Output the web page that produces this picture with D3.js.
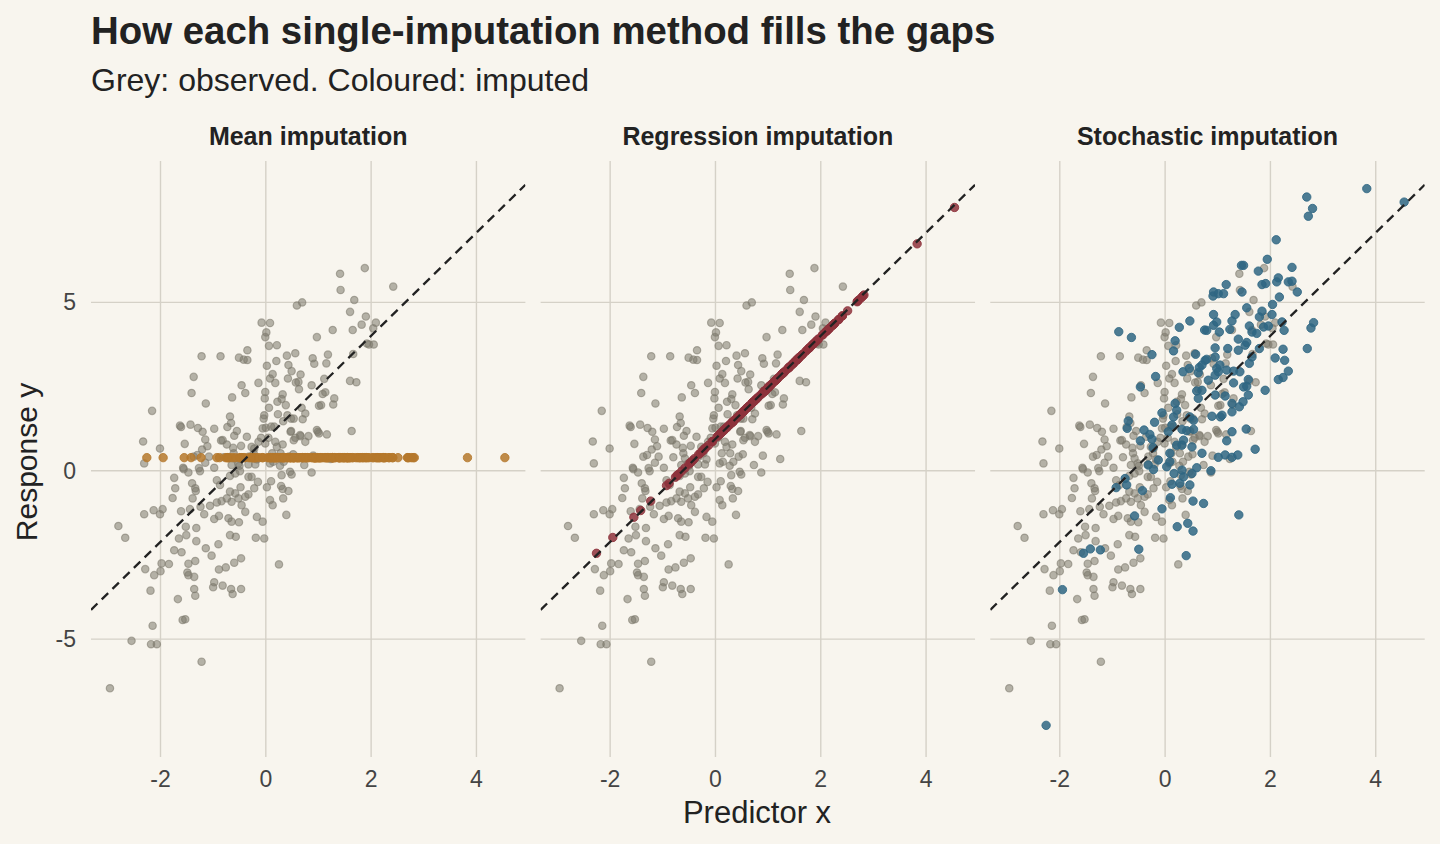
<!DOCTYPE html>
<html>
<head>
<meta charset="utf-8">
<script src="https://cdn.jsdelivr.net/npm/d3@7"></script>
<style>
  html, body { margin: 0; padding: 0; background: #f8f5ee; }
  svg { display: block; font-family: "Liberation Sans", Arial, Helvetica, sans-serif; }
</style>
</head>
<body>
<div id="chart"></div>
<script>
// observed points [x, y] (same in every panel)
const observed = [
  [-1.22,3.40],[-0.86,3.40],[-0.51,3.36],[-0.42,3.30],[-0.35,3.29],[-0.35,3.58],[-1.37,2.79],[-1.41,2.31],
  [-1.14,2.00],[-0.46,2.54],[-0.39,2.31],[-0.64,2.18],[-2.16,1.78],[-0.68,1.61],[-0.66,1.42],[-0.73,1.30],
  [-1.63,1.34],[-1.61,1.30],[-1.43,1.37],[-1.29,1.27],[-1.20,1.16],[-0.98,1.25],[-1.15,0.93],[-1.11,0.73],
  [-0.85,0.90],[-0.55,1.18],[-0.60,1.04],[-0.36,1.01],[-0.47,0.74],[-0.62,0.68],[-0.74,0.78],[-1.54,0.80],
  [-2.33,0.87],[-2.01,0.66],[-1.21,0.63],[-2.31,0.22],[-1.57,0.09],[-1.27,0.08],[-0.98,0.09],[-0.65,0.17],
  [-0.50,0.15],
  [1.41,5.85],[1.88,6.02],[2.42,5.47],[1.42,5.37],[0.59,4.91],[0.69,5.00],[1.68,5.07],[1.60,4.72],
  [1.90,4.58],[1.82,4.34],[2.09,4.40],[2.04,4.23],[1.65,4.18],[1.27,4.18],[0.97,3.97],[-0.08,4.40],
  [0.08,4.39],[0.01,4.11],[-0.01,3.97],[0.06,3.71],[0.21,3.73],[0.40,3.42],[0.56,3.49],[0.20,3.26],
  [0.02,3.12],[0.43,3.14],[0.49,2.96],[0.89,3.34],[0.92,3.18],[1.18,3.45],[1.15,3.19],[0.13,2.87],
  [0.08,2.74],[0.18,2.61],[-0.14,2.61],[0.42,2.74],[0.66,2.86],[0.62,2.64],[0.57,2.62],[0.63,2.42],
  [0.87,2.54],[1.11,2.73],[1.13,2.33],[1.08,2.28],[1.30,2.15],[1.28,1.97],[1.05,1.95],[1.01,1.93],
  [1.60,2.67],[1.72,2.63],[1.92,3.78],[1.96,3.75],[2.05,3.75],[1.66,3.47],[-0.01,2.34],[-0.02,2.15],
  [0.32,2.27],[0.30,2.13],[0.22,2.05],[0.38,1.95],[0.06,1.87],[-0.03,1.65],[-0.04,1.55],[0.23,1.68],
  [0.41,1.65],[0.48,1.55],[0.53,1.55],[0.68,1.87],[0.75,1.70],[0.70,1.53],[0.33,1.47],[0.16,1.31],
  [-0.06,1.26],[0.00,1.28],[0.10,1.31],[0.48,1.18],[0.56,0.98],[0.66,1.03],[0.81,1.03],[0.75,0.86],
  [0.97,1.21],[1.01,1.11],[1.16,1.08],[1.63,1.18],[-0.09,0.98],[0.05,0.98],[-0.14,0.86],[-0.01,0.81],
  [0.18,0.86],[0.32,0.78],[0.21,0.71],[-0.27,0.71],[-0.22,0.66],[-0.33,0.19],[-0.20,0.19],[0.08,0.22],
  [0.27,0.15],[0.73,0.17],
  [-1.56,0.05],[-1.47,-0.05],[-1.25,-0.01],[-1.74,-0.21],[-1.72,-0.52],[-1.77,-0.81],[-1.40,-0.37],[-1.34,-0.52],
  [-1.33,-0.60],[-1.39,-0.82],[-0.93,-0.28],[-0.87,-0.42],[-0.68,-0.15],[-0.58,-0.08],[-0.49,-0.01],[-0.48,-0.49],
  [-0.68,-0.62],[-0.58,-0.67],[-0.74,-0.82],[-0.65,-0.92],[-0.52,-0.82],[-0.39,-0.77],[-0.46,-1.02],[-0.39,-1.22],
  [-1.06,-1.04],[-0.93,-0.94],[-0.84,-0.90],[-1.17,-1.29],[-0.98,-1.43],[-0.89,-1.34],[-0.71,-1.41],[-0.65,-1.51],
  [-0.51,-1.53],[-1.24,-1.07],[-1.44,-1.14],[-1.61,-1.20],[-2.31,-1.29],[-2.13,-1.17],[-2.01,-1.29],[-1.96,-1.14],
  [-2.80,-1.64],[-2.67,-1.99],[-1.52,-1.66],[-1.32,-1.70],[-1.51,-1.91],[-1.65,-2.01],[-1.32,-2.09],[-0.68,-1.91],
  [-0.57,-1.96],[-0.90,-2.18],[-1.14,-2.30],[-1.03,-2.52],[-1.74,-2.36],[-1.60,-2.42],[-0.47,-2.60],[-0.60,-2.73],
  [-0.76,-2.87],[-0.89,-2.93],[-1.47,-2.76],[-1.34,-2.68],[-1.98,-2.75],[-1.84,-2.77],[-2.00,-2.98],[-2.12,-3.10],
  [-2.29,-2.92],[-1.49,-3.02],[-1.47,-3.10],[-1.36,-3.15],[-0.98,-3.31],[-1.00,-3.46],[-0.82,-3.41],[-0.66,-3.51],
  [-0.63,-3.66],[-0.47,-3.51],[-1.36,-3.51],[-1.34,-3.71],[-2.19,-3.56],[-1.67,-3.81],[-1.58,-4.43],[-1.53,-4.41],
  [-2.15,-4.60],[-2.55,-5.05],[-2.18,-5.15],[-2.07,-5.15],[-1.22,-5.67],[-2.96,-6.46],[-0.33,-0.18],
  [0.87,-0.05],[-0.27,-0.18],[-0.15,-0.33],[-0.22,-0.52],[-0.33,-0.70],[0.02,-0.49],[0.10,-0.31],[0.30,-0.13],
  [0.29,-0.45],[0.32,-0.54],[0.43,-0.60],[0.46,-0.03],[0.49,-0.11],[0.08,-0.87],[0.13,-1.02],[0.33,-0.82],
  [0.39,-1.31],[-0.17,-1.37],[-0.06,-1.51],[-0.19,-1.99],[-0.03,-2.01],[0.25,-2.78],
  [-1.37,0.42],[-1.30,0.47],[-1.08,0.42],[-1.15,0.24],[-0.80,0.40],[-0.61,0.52],[-0.58,0.37],[-0.52,0.22],
  [-0.32,0.42],[-0.23,0.52],[-0.17,0.34],[0.12,0.52],[0.28,0.52],[0.14,0.27],[0.34,0.27],[0.44,0.42],
  [0.52,0.49],[0.90,0.45],[1.23,0.35],[0.99,1.16],[0.65,1.06],[0.47,1.16],[0.53,0.91],[-0.82,0.91]
];

// imputed rows: [x, regression fill, stochastic fill]
const imputed = [
  [-2.26,-2.45,-7.56],[-1.95,-1.98,-3.53],[-1.55,-1.38,-2.45],[-1.42,-1.18,-2.32],[-1.23,-0.90,-2.35],
  [-0.93,-0.44,-0.50],[-0.88,-0.37,4.13],[-0.76,-0.19,-0.23],[-0.73,-0.14,-0.42],[-0.72,-0.13,1.26],
  [-0.70,-0.10,1.48],[-0.64,-0.01,3.96],[-0.58,0.08,-1.34],[-0.50,0.20,-2.33],[-0.47,0.25,2.49],
  [-0.47,0.25,0.89],[-0.43,0.31,-0.59],[-0.40,0.36,1.21],[-0.32,0.48,0.17],[-0.29,0.52,1.08],
  [-0.25,0.58,3.45],[-0.25,0.58,0.94],[-0.23,0.61,0.69],[-0.22,0.63,0.04],[-0.20,0.66,1.44],
  [-0.18,0.69,2.80],[-0.13,0.76,0.32],[-0.06,0.87,1.72],[-0.06,0.87,-1.13],[0.03,1.01,0.12],
  [0.06,1.05,1.16],[0.09,1.10,0.52],[0.09,1.10,0.27],[0.10,1.11,-0.80],[0.13,1.16,1.36],
  [0.13,1.16,-0.40],[0.16,1.20,3.56],[0.16,1.20,1.60],[0.17,1.22,-0.08],[0.19,1.25,3.86],
  [0.19,1.25,2.00],[0.22,1.29,1.80],[0.22,1.29,0.76],[0.23,1.31,-1.66],[0.27,1.37,4.26],
  [0.28,1.38,-0.37],[0.32,1.44,1.23],[0.32,1.44,0.76],[0.32,1.44,0.02],[0.34,1.47,2.94],
  [0.35,1.49,0.91],[0.35,1.49,-0.18],[0.40,1.56,-2.52],[0.41,1.58,1.19],[0.43,1.61,-1.56],
  [0.46,1.65,3.04],[0.47,1.67,4.45],[0.47,1.67,1.60],[0.47,1.67,-0.42],[0.51,1.73,0.71],
  [0.51,1.73,-0.08],[0.53,1.76,-0.90],[0.53,1.76,-1.79],[0.54,1.78,1.50],[0.54,1.78,1.23],
  [0.58,1.84,3.46],[0.60,1.87,2.37],[0.60,1.87,0.09],[0.63,1.91,2.91],[0.63,1.91,2.15],
  [0.65,1.94,3.07],[0.70,2.02,3.14],[0.70,2.02,2.39],[0.70,2.02,0.52],[0.73,2.06,-0.97],
  [0.75,2.09,4.18],[0.76,2.11,3.28],[0.79,2.15,4.17],[0.79,2.15,3.31],[0.82,2.20,2.69],
  [0.87,2.27,0.00],[0.89,2.30,1.62],[0.91,2.33,5.19],[0.92,2.35,5.31],[0.92,2.35,4.64],
  [0.92,2.35,4.32],[0.95,2.39,3.65],[0.95,2.39,3.38],[0.95,2.39,2.84],[0.95,2.39,2.25],
  [0.98,2.44,4.42],[0.98,2.44,3.04],[1.01,2.49,5.26],[1.01,2.49,0.40],[1.01,2.49,2.94],
  [1.03,2.52,4.12],[1.04,2.53,3.14],[1.05,2.55,1.60],[1.08,2.59,1.65],[1.11,2.64,5.26],
  [1.14,2.68,2.22],[1.14,2.68,0.47],[1.16,2.71,5.53],[1.17,2.73,2.99],[1.17,2.73,0.89],
  [1.19,2.76,3.63],[1.23,2.82,4.20],[1.27,2.88,4.45],[1.27,2.88,2.00],[1.27,2.88,1.75],
  [1.27,2.88,1.16],[1.27,2.88,0.40],[1.30,2.92,2.96],[1.30,2.92,2.61],[1.33,2.97,4.64],
  [1.38,3.04,0.47],[1.39,3.06,3.91],[1.39,3.06,3.58],[1.40,3.07,-1.31],[1.41,3.09,1.90],
  [1.42,3.10,2.94],[1.45,3.15,6.10],[1.46,3.16,5.31],[1.48,3.19,2.05],[1.49,3.21,6.10],
  [1.49,3.21,2.49],[1.52,3.26,3.73],[1.54,3.29,1.24],[1.55,3.30,4.84],[1.55,3.30,3.81],
  [1.55,3.30,2.51],[1.58,3.35,2.71],[1.58,3.35,2.25],[1.60,3.38,4.30],[1.60,3.38,3.19],
  [1.65,3.45,4.12],[1.65,3.45,3.38],[1.71,3.54,0.64],[1.74,3.59,4.08],[1.77,3.63,5.93],
  [1.79,3.66,4.57],[1.79,3.66,3.63],[1.84,3.74,5.53],[1.84,3.74,4.74],[1.87,3.78,4.27],
  [1.90,3.83,2.39],[1.91,3.84,5.56],[1.94,3.89,6.28],[1.96,3.92,4.30],[2.03,4.03,4.64],
  [2.04,4.04,4.94],[2.09,4.12,3.35],[2.11,4.15,6.86],[2.12,4.16,5.61],[2.15,4.21,5.73],
  [2.15,4.21,2.71],[2.17,4.24,5.16],[2.22,4.31,4.42],[2.24,4.34,3.61],[2.24,4.34,2.77],
  [2.26,4.37,4.17],[2.27,4.39,3.28],[2.34,4.49,5.61],[2.34,4.49,2.96],[2.41,4.60,6.04],
  [2.41,4.60,5.63],[2.51,4.75,5.31],[2.69,5.02,8.13],[2.70,5.04,3.63],[2.72,5.07,7.56],
  [2.77,5.14,4.24],[2.80,5.19,7.79],[2.82,5.22,4.40],[3.83,6.74,8.38],[4.54,7.82,7.98]
];

const meanFillY = 0.39;           // mean of observed y, used for every gap
const refLine = { intercept: 0.95, slope: 1.53 };  // dashed fit line

const panels = ['Mean imputation', 'Regression imputation', 'Stochastic imputation'];
const fillColors = ['#b5782c', '#8e323c', '#2f6682'];
const xTicks = [-2, 0, 2, 4];
const yTicks = [-5, 0, 5];

const W = 1440, H = 844;
const svg = d3.select('#chart').append('svg').attr('width', W).attr('height', H);
svg.append('rect').attr('width', W).attr('height', H).attr('fill', '#f8f5ee');

const panelW = 434.4, panelGap = 15.25, left0 = 91;
const plotTop = 161, plotBottom = 757;
const xDomain = [-3.32, 4.93];
const y = d3.scaleLinear().domain([-8.5, 9.2]).range([plotBottom, plotTop]);

svg.append('text').attr('x', 91).attr('y', 44)
  .attr('font-size', 38.4).attr('font-weight', 'bold').attr('fill', '#222')
  .text('How each single-imputation method fills the gaps');
svg.append('text').attr('x', 91).attr('y', 91)
  .attr('font-size', 32).attr('fill', '#222')
  .text('Grey: observed. Coloured: imputed');

panels.forEach((name, i) => {
  const x0 = left0 + i * (panelW + panelGap);
  const x = d3.scaleLinear().domain(xDomain).range([x0, x0 + panelW]);
  const g = svg.append('g');

  // grid
  g.selectAll('.gx').data(xTicks).join('line')
    .attr('x1', d => x(d)).attr('x2', d => x(d)).attr('y1', plotTop).attr('y2', plotBottom)
    .attr('stroke', '#d5d1c7').attr('stroke-width', 1.4);
  g.selectAll('.gy').data(yTicks).join('line')
    .attr('x1', x0).attr('x2', x0 + panelW).attr('y1', d => y(d)).attr('y2', d => y(d))
    .attr('stroke', '#d5d1c7').attr('stroke-width', 1.4);

  // x axis labels
  g.selectAll('.tx').data(xTicks).join('text')
    .attr('x', d => x(d)).attr('y', 787).attr('text-anchor', 'middle')
    .attr('font-size', 23).attr('fill', '#444')
    .text(d => d < 0 ? '-' + Math.abs(d) : d);

  // strip title
  g.append('text').attr('x', x0 + panelW / 2).attr('y', 145).attr('text-anchor', 'middle')
    .attr('font-size', 25).attr('font-weight', 'bold').attr('fill', '#222').text(name);

  // observed
  g.append('g').selectAll('circle').data(observed).join('circle')
    .attr('cx', d => x(d[0])).attr('cy', d => y(d[1])).attr('r', 3.7)
    .attr('fill', '#7b796b').attr('fill-opacity', 0.55)
    .attr('stroke', '#7b796b').attr('stroke-opacity', 0.55).attr('stroke-width', 1.2);

  // imputed
  const fy = d => i === 0 ? meanFillY : i === 1 ? d[1] : d[2];
  g.append('g').selectAll('circle').data(imputed).join('circle')
    .attr('cx', d => x(d[0])).attr('cy', d => y(fy(d))).attr('r', 4.2)
    .attr('fill', fillColors[i]).attr('fill-opacity', 0.85)
    .attr('stroke', fillColors[i]).attr('stroke-opacity', 0.85).attr('stroke-width', 1);

  // dashed reference line, clipped to panel
  const clipId = 'clip' + i;
  svg.append('clipPath').attr('id', clipId).append('rect')
    .attr('x', x0).attr('y', plotTop).attr('width', panelW).attr('height', plotBottom - plotTop);
  g.append('line')
    .attr('clip-path', `url(#${clipId})`)
    .attr('x1', x(xDomain[0])).attr('y1', y(refLine.intercept + refLine.slope * xDomain[0]))
    .attr('x2', x(xDomain[1])).attr('y2', y(refLine.intercept + refLine.slope * xDomain[1]))
    .attr('stroke', '#222').attr('stroke-width', 2.3).attr('stroke-dasharray', '9,6');

  if (i === 0) {
    g.selectAll('.ty').data(yTicks).join('text')
      .attr('x', 76).attr('y', d => y(d)).attr('dy', '0.35em').attr('text-anchor', 'end')
      .attr('font-size', 23).attr('fill', '#444')
      .text(d => d < 0 ? '-' + Math.abs(d) : d);
  }
});

svg.append('text').attr('x', 757).attr('y', 823).attr('text-anchor', 'middle')
  .attr('font-size', 31).attr('fill', '#222').text('Predictor x');
svg.append('text').attr('transform', 'translate(37,462) rotate(-90)').attr('text-anchor', 'middle')
  .attr('font-size', 30).attr('fill', '#222').text('Response y');
</script>
</body>
</html>
